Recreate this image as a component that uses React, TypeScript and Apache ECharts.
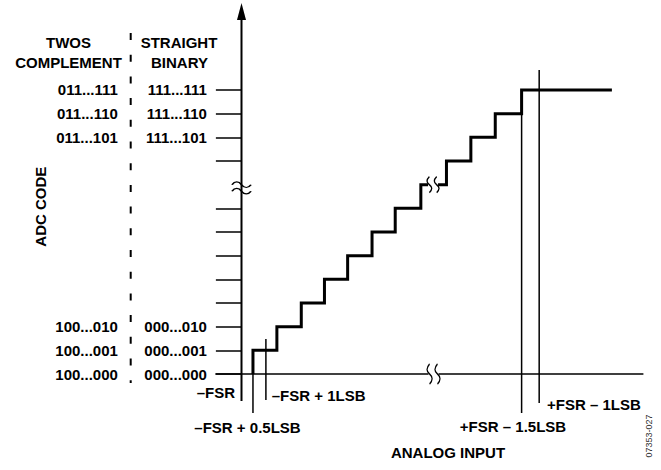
import React, { useEffect, useRef } from 'react';
import * as echarts from 'echarts';

// ---- data ----
const TWOS_COMPLEMENT = ['100...000', '100...001', '100...010', '011...101', '011...110', '011...111'];
const STRAIGHT_BINARY = ['000...000', '000...001', '000...010', '111...101', '111...110', '111...111'];
const LABEL_CODES = [0, 1, 2, 10, 11, 12];
const TICK_CODES = [0, 1, 2, 3, 4, 5, 6, 7, 9, 10, 11, 12];
// code transitions in LSB units (x = 0 is -FSR)
const TRANSITIONS = [0.47, 1.45, 2.45, 3.4, 4.35, 5.35, 6.3, 7.35, 8.4, 9.4, 10.4, 11.48];
const TOP_END = 15.18;
// vertical reference lines: y axis, -FSR+0.5LSB, -FSR+1LSB, +FSR-1.5LSB, +FSR-1LSB
const MARKER_X = [0, 0.47, 1.0, 11.48, 12.2];
const MARKER_BOTTOM = [-1.14, -1.65, -1.1, -1.65, -1.22];
const MARKER_TOP = [15.31, 1, 1.48, 12, 12.84];
const BREAK_YAXIS = [0, 7.86];
const BREAK_STAIR = [7.85, 8];
const BREAK_XAXIS = [7.87, 0];

// ---- layout ----
const X0 = 241.5, UX = 24.4, Y0 = 374, UY = 23.67;
const X_MIN = -1.05, X_MAX = 16.45, Y_MIN = -4, Y_MAX = 15.8;
const FONT = 'bold 15px "Liberation Sans", Arial, sans-serif';

const TILDE2 = 'path://M0,4C3,0 7,0 10,4C13,8 17,8 20,4M0,11C3,7 7,7 10,11C13,15 17,15 20,11';
const WAVE2 = 'path://M4,0C1,4 1,7 4,10C7,13 7,16 4,20M11,0C8,4 8,7 11,10C14,13 14,16 11,20';

const labelFor = (arr: string[]) => (v: number) => {
  const i = LABEL_CODES.indexOf(Math.round(v));
  return i >= 0 && Math.abs(v - Math.round(v)) < 1e-6 ? arr[i] : '';
};

const text = (t: string, x: number, y: number, align: string, extra: any = {}) => ({
  type: 'text',
  x,
  y,
  silent: true,
  ...extra,
  style: { text: t, x: 0, y: 0, align, verticalAlign: 'middle', fill: '#000', font: FONT, ...(extra.style || {}) },
});

export default function App() {
  const ref = useRef<HTMLDivElement>(null);
  useEffect(() => {
    const chart = echarts.init(ref.current!, null, { renderer: 'svg' });
    const stairData: number[][] = TRANSITIONS.map((x, i) => [x, i]);
    stairData.push([TOP_END, TRANSITIONS.length]);

    const markerSeries = MARKER_X.map((x, i) => ({
      type: 'line',
      data: [[x, MARKER_BOTTOM[i]], [x, MARKER_TOP[i]]],
      symbol: 'none',
      silent: true,
      clip: false,
      lineStyle: { color: '#000', width: i === 0 ? 2 : 1.5, cap: 'butt' },
      z: 3,
      ...(i === 0
        ? {
            markPoint: {
              silent: true,
              label: { show: false },
              data: [
                {
                  coord: [x, MARKER_TOP[i]],
                  symbol: 'triangle',
                  symbolSize: [9, 17],
                  itemStyle: { color: '#000' },
                },
              ],
            },
          }
        : {}),
    }));

    const labelStyle = {
      color: '#000',
      fontFamily: '"Liberation Sans", Arial, sans-serif',
      fontWeight: 'bold',
      fontSize: 15,
    };

    chart.setOption({
      animation: false,
      grid: {
        left: X0 + X_MIN * UX,
        width: (X_MAX - X_MIN) * UX,
        top: Y0 - Y_MAX * UY,
        height: (Y_MAX - Y_MIN) * UY,
        containLabel: false,
        outerBoundsMode: 'none',
      },
      xAxis: {
        type: 'value',
        min: X_MIN,
        max: X_MAX,
        axisLine: { show: true, onZero: true, lineStyle: { color: '#000', width: 1.5 } },
        axisTick: { show: false },
        axisLabel: { show: false },
        splitLine: { show: false },
      },
      yAxis: [
        {
          type: 'value',
          min: Y_MIN,
          max: Y_MAX,
          position: 'left',
          axisLine: { show: false, onZero: false },
          splitLine: { show: false },
          axisTick: {
            show: true,
            inside: true,
            length: -X_MIN * UX,
            customValues: TICK_CODES,
            lineStyle: { color: '#000', width: 1.5 },
          },
          axisLabel: {
            customValues: LABEL_CODES,
            formatter: labelFor(STRAIGHT_BINARY),
            margin: 9,
            ...labelStyle,
          },
        },
        {
          type: 'value',
          min: Y_MIN,
          max: Y_MAX,
          position: 'left',
          axisLine: { show: false, onZero: false },
          splitLine: { show: false },
          axisTick: { show: false },
          axisLabel: {
            customValues: LABEL_CODES,
            formatter: labelFor(TWOS_COMPLEMENT),
            margin: 98,
            ...labelStyle,
          },
        },
      ],
      series: [
        {
          type: 'line',
          data: stairData,
          step: 'start',
          symbol: 'none',
          silent: true,
          clip: false,
          z: 4,
          lineStyle: { color: '#000', width: 3, join: 'miter', cap: 'butt' },
          markPoint: {
            silent: true,
            label: { show: false },
            data: [
              { coord: BREAK_YAXIS, symbol: TILDE2, symbolSize: [19, 12], itemStyle: { color: 'none', borderColor: '#000', borderWidth: 1.5 } },
              { coord: BREAK_STAIR, symbol: 'rect', symbolSize: [10, 7], itemStyle: { color: '#fff' } },
              { coord: BREAK_STAIR, symbol: WAVE2, symbolSize: [12, 16], itemStyle: { color: 'none', borderColor: '#000', borderWidth: 1.5 } },
              { coord: BREAK_XAXIS, symbol: 'rect', symbolSize: [10, 5], itemStyle: { color: '#fff' } },
              { coord: BREAK_XAXIS, symbol: WAVE2, symbolSize: [13, 20], itemStyle: { color: 'none', borderColor: '#000', borderWidth: 1.5 } },
            ],
          },
        },
        ...markerSeries,
      ],
      graphic: [
        {
          type: 'line',
          silent: true,
          shape: { x1: 130.7, y1: 33, x2: 130.7, y2: 383 },
          style: { stroke: '#000', lineWidth: 2, lineDash: [7, 14.7] },
        },
        text('TWOS', 68.5, 42.5, 'center'),
        text('COMPLEMENT', 68.5, 62.5, 'center'),
        text('STRAIGHT', 179, 42.5, 'center'),
        text('BINARY', 179.5, 62.5, 'center'),
        text('ADC CODE', 40, 206.7, 'center', { rotation: Math.PI / 2 }),
        text('–FSR', 235, 392.8, 'right'),
        text('–FSR + 1LSB', 271.7, 395.8, 'left'),
        text('–FSR + 0.5LSB', 247.5, 427, 'center'),
        text('+FSR – 1.5LSB', 513, 426, 'center'),
        text('+FSR – 1LSB', 547, 404, 'left'),
        text('ANALOG INPUT', 448, 452.5, 'center'),
        text('07353-027', 649, 436, 'center', {
          rotation: Math.PI / 2,
          style: { font: '9px "Liberation Sans", Arial, sans-serif', fill: '#333' },
        }),
      ],
    });
    return () => chart.dispose();
  }, []);
  return <div ref={ref} style={{ position: 'fixed', left: 0, top: 0, width: 661, height: 470, background: '#fff' }} />;
}
